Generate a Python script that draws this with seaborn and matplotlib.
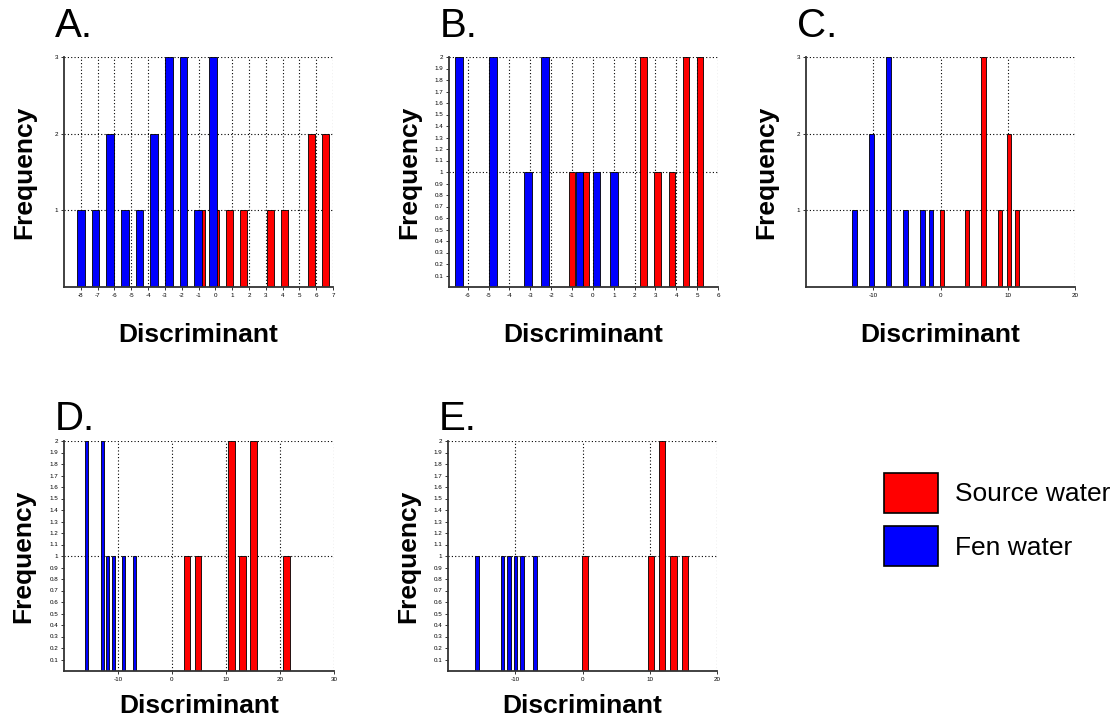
import numpy as np
import pandas as pd
import matplotlib
matplotlib.use("Agg")
import matplotlib.pyplot as plt
from matplotlib.patches import Patch
import seaborn as sns

# Bin centres (discriminant score) and counts for each water group
a_source_x = [-0.80, 0.02, 0.84, 1.65, 2.47, 3.29, 4.11, 4.93, 5.74, 6.56]
a_source_n = [1, 1, 1, 1, 0, 1, 1, 0, 2, 2]
a_fen_x = [-8.00, -7.13, -6.25, -5.38, -4.51, -3.64, -2.76, -1.89, -1.02, -0.14]
a_fen_n = [1, 1, 2, 1, 1, 2, 3, 3, 1, 3]

b_source_x = [-1.00, -0.32, 0.37, 1.05, 1.73, 2.42, 3.10, 3.78, 4.47, 5.15]
b_source_n = [1, 1, 0, 0, 0, 2, 1, 1, 2, 2]
b_fen_x = [-6.43, -5.60, -4.78, -3.95, -3.13, -2.30, -1.47, -0.65, 0.18, 1.00]
b_fen_n = [2, 0, 2, 0, 1, 2, 0, 1, 1, 1]

c_source_x = [0.20, 1.44, 2.68, 3.92, 5.16, 6.41, 7.65, 8.89, 10.13, 11.37]
c_source_n = [1, 0, 0, 1, 0, 3, 0, 1, 2, 1]
c_fen_x = [-12.78, -11.52, -10.26, -9.00, -7.73, -6.47, -5.21, -3.95, -2.68, -1.42]
c_fen_n = [1, 0, 2, 0, 3, 0, 1, 0, 1, 1]

d_source_x = [2.79, 4.83, 6.88, 8.92, 10.96, 13.01, 15.05, 17.09, 19.13, 21.18]
d_source_n = [1, 1, 0, 0, 2, 1, 2, 0, 0, 1]
d_fen_x = [-15.82, -14.84, -13.85, -12.87, -11.89, -10.90, -9.92, -8.94, -7.95, -6.97]
d_fen_n = [2, 0, 0, 2, 1, 1, 0, 1, 0, 1]

e_source_x = [0.35, 2.00, 3.65, 5.29, 6.94, 8.59, 10.24, 11.88, 13.53, 15.18]
e_source_n = [1, 0, 0, 0, 0, 0, 1, 2, 1, 1]
e_fen_x = [-15.70, -14.74, -13.78, -12.82, -11.86, -10.91, -9.95, -8.99, -8.03, -7.07]
e_fen_n = [1, 0, 0, 0, 1, 1, 1, 1, 0, 1]

panel_titles = ["A.", "B.", "C.", "D.", "E."]
group_labels = ["Source water", "Fen water"]
group_colors = ["#ff0000", "#0000ff"]

sns.set_theme(style="white")
plt.rcParams["font.family"] = ["Liberation Sans", "DejaVu Sans"]
plt.rcParams.update({"text.color": "black", "axes.labelcolor": "black",
                     "xtick.color": "black", "ytick.color": "black"})

fig = plt.figure(figsize=(11.2, 7.25), dpi=100)
W, H = 1120, 725


def add_axes_px(left, top, width, height):
    return fig.add_axes([left / W, 1 - (top + height) / H, width / W, height / H])


def draw_group(ax, xs, ns, color, shrink):
    xs = np.asarray(xs, dtype=float)
    mids = (xs[1:] + xs[:-1]) / 2
    edges = np.concatenate([[xs[0] - (xs[1] - xs[0]) / 2], mids,
                            [xs[-1] + (xs[-1] - xs[-2]) / 2]])
    df = pd.DataFrame({"score": xs, "count": np.asarray(ns, dtype=float)})
    before = len(ax.patches)
    sns.histplot(data=df, x="score", weights="count", bins=edges.tolist(),
                 shrink=shrink, color=color, alpha=1, edgecolor="black",
                 linewidth=0.6, ax=ax)
    for p in list(ax.patches[before:]):
        if p.get_height() == 0:
            p.remove()
        else:
            p.set_facecolor(color)


panels = [
    dict(title="A.", src=(a_source_x, a_source_n), fen=(a_fen_x, a_fen_n),
         xlim=(-9, 7), xticks=list(range(-8, 8)), ymax=3, fine=False,
         shrink=0.52, box=(64, 57, 269, 230), xlab_y=-0.155),
    dict(title="B.", src=(b_source_x, b_source_n), fen=(b_fen_x, b_fen_n),
         xlim=(-6.9, 6), xticks=list(range(-6, 7)), ymax=2, fine=True,
         shrink=0.45, box=(449, 57, 269, 230), xlab_y=-0.155),
    dict(title="C.", src=(c_source_x, c_source_n), fen=(c_fen_x, c_fen_n),
         xlim=(-20, 20), xticks=[-10, 0, 10, 20], ymax=3, fine=False,
         shrink=0.5, box=(806, 57, 269, 230), xlab_y=-0.155),
    dict(title="D.", src=(d_source_x, d_source_n), fen=(d_fen_x, d_fen_n),
         xlim=(-20, 30), xticks=[-10, 0, 10, 20, 30], ymax=2, fine=True,
         shrink=0.6, box=(64, 441, 270, 230), xlab_y=-0.10),
    dict(title="E.", src=(e_source_x, e_source_n), fen=(e_fen_x, e_fen_n),
         xlim=(-20, 20), xticks=[-10, 0, 10, 20], ymax=2, fine=True,
         shrink=0.55, box=(448, 441, 269, 230), xlab_y=-0.10),
]

grid_kw = dict(color="black", linestyle=(0, (1, 2)), linewidth=0.8)

for spec in panels:
    ax = add_axes_px(*spec["box"])
    draw_group(ax, *spec["src"], group_colors[0], spec["shrink"])
    draw_group(ax, *spec["fen"], group_colors[1], spec["shrink"])

    ax.set_xlim(*spec["xlim"])
    ax.set_ylim(0, spec["ymax"])
    ax.set_xticks(spec["xticks"])
    ax.set_xticklabels([str(t) for t in spec["xticks"]])
    if spec["fine"]:
        major = [1, 2]
        minor = [round(v, 1) for v in np.arange(0.1, 2.0, 0.1) if abs(v - 1) > 1e-6]
        ax.set_yticks(major)
        ax.set_yticklabels(["1", "2"])
        ax.set_yticks(minor, minor=True)
        ax.set_yticklabels([f"{v:.1f}" for v in minor], minor=True)
    else:
        ticks = list(range(1, spec["ymax"] + 1))
        ax.set_yticks(ticks)
        ax.set_yticklabels([str(t) for t in ticks])

    ax.set_axisbelow(True)
    ax.xaxis.grid(True, which="major", **grid_kw)
    ax.yaxis.grid(True, which="major", **grid_kw)
    ax.yaxis.grid(False, which="minor")

    for side in ("top", "right"):
        ax.spines[side].set_visible(False)
    for side in ("left", "bottom"):
        ax.spines[side].set_color("#333333")
        ax.spines[side].set_linewidth(1.3)

    ax.tick_params(axis="both", which="both", direction="out", length=2.5,
                   width=0.7, color="#333333", labelsize=4.5, pad=1.5,
                   bottom=True, left=True)

    ax.set_xlabel("Discriminant", fontsize=19, fontweight="bold")
    ax.set_ylabel("Frequency", fontsize=19, fontweight="bold")
    ax.xaxis.set_label_coords(0.5, spec["xlab_y"])
    ax.yaxis.set_label_coords(-0.105, 0.5)

    ax.text(-0.035, 1.085 if spec["box"][1] < 100 else 1.05, spec["title"],
            transform=ax.transAxes, fontsize=29, ha="left", va="baseline")

handles = [Patch(facecolor=c, edgecolor="black", linewidth=1.2) for c in group_colors]
fig.legend(handles=handles, labels=group_labels, loc="upper left",
           bbox_to_anchor=(884 / W, 1 - 473 / H), frameon=False, fontsize=19,
           handlelength=2.05, handleheight=1.93, handletextpad=0.65,
           labelspacing=0.52, borderpad=0, borderaxespad=0)

fig.savefig("out.png", dpi=100, facecolor="white")
